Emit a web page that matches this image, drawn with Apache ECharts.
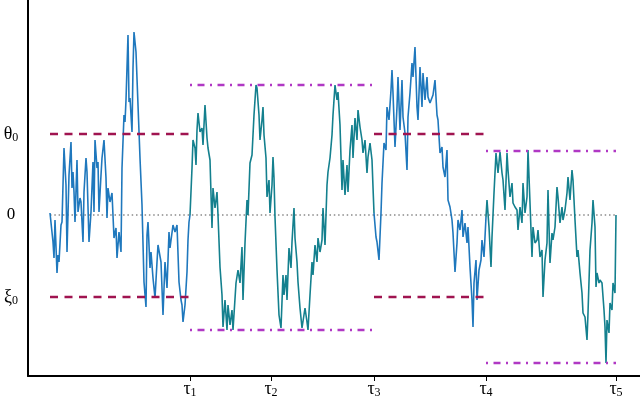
<!DOCTYPE html>
<html><head><meta charset="utf-8">
<script src="https://cdn.jsdelivr.net/npm/echarts@6.0.0/dist/echarts.min.js"></script>
<style>html,body{margin:0;padding:0;background:#fff}#c{width:640px;height:398px}</style>
</head><body><div id="c"></div>
<script>
// Time axis: arbitrary time units; value axis: arbitrary units (theta0 = 81, xi0 = -82)
const tauTimes = [140, 221, 324, 436, 566];
const tauSubs = ['1', '2', '3', '4', '5'];
const yTickValues = [81, 0, -82];
const yTickNames = [['θ', '0'], ['0', ''], ['ξ', '0']];

const theta0 = 81, xi0 = -82;
const stageB = { start: 140, end: 324, upper: 130, lower: -115 };
const stageD = { start: 436, end: 566, upper: 64, lower: -148 };
const stageA = { start: 0, end: 140 };
const stageC = { start: 324, end: 436 };
const zeroSpan = [0, 566];

const pathSeg1 = [[0,2],[2,3],[3,-27],[4,-43],[5,-5],[7,-58],[8,-40],[9,-47],[11,-10],[12,-7],[14,67],[16,30],[17,-37],[19,40],[21,73],[22,27],[23,43],[24,23],[25,-7],[27,55],[28,3],[30,17],[31,13],[33,-27],[34,23],[36,57],[37,43],[39,-27],[41,3],[43,53],[44,3],[45,75],[47,47],[48,53],[49,3],[51,40],[52,57],[54,75],[56,37],[57,-3],[58,27],[60,13],[62,22],[64,-23],[66,-13],[67,-43],[69,-17],[71,-37],[72,47],[74,100],[75,93],[76,115],[78,180],[79,113],[80,117],[82,83],[83,147],[84,183],[86,163],[88,110],[90,57],[92,10],[94,-67],[96,-92],[97,-20],[98,-7],[100,-53],[101,-37],[103,-63],[105,-83],[107,-47],[108,-30],[111,-47],[113,-100],[115,-47],[117,-73],[119,-17],[120,-33],[123,-10],[125,-17],[127,-10],[129,-67],[131,-85],[132,-90],[133,-107],[135,-90],[137,-57],[138,-25],[139,-7],[140,0]];

const pathSeg2 = [[140,0],[142,47],[143,75],[145,67],[146,50],[147,85],[148,102],[150,83],[152,87],[153,70],[155,110],[157,77],[158,67],[160,55],[162,-13],[163,27],[165,7],[167,23],[168,0],[170,-52],[172,-80],[173,-112],[175,-85],[177,-115],[178,-90],[180,-110],[182,-95],[183,-115],[186,-68],[188,-55],[190,-68],[192,-32],[193,-85],[195,-28],[197,15],[198,0],[200,52],[202,60],[204,100],[206,130],[207,127],[209,100],[210,75],[212,95],[213,108],[214,80],[216,57],[217,18],[219,35],[220,2],[222,30],[223,58],[224,37],[225,-2],[227,-55],[229,-100],[231,-113],[233,-60],[234,-80],[236,-60],[237,-85],[239,-33],[241,-53],[242,-27],[244,7],[245,-23],[247,-47],[248,-67],[250,-93],[252,-113],[253,-115],[255,-93],[257,-107],[258,-115],[260,-80],[262,-47],[263,-60],[265,-30],[267,-47],[268,-23],[270,-37],[272,-25],[273,7],[275,-30],[277,30],[278,43],[280,57],[282,80],[283,100],[285,130],[287,115],[288,123],[290,90],[292,25],[293,55],[295,20],[297,50],[298,23],[300,65],[302,90],[303,57],[305,97],[307,75],[308,105],[310,88],[312,75],[313,62],[315,75],[317,42],[318,58],[320,72],[322,55],[323,28],[324,2]];

const pathSeg3 = [[324,2],[326,-22],[327,-27],[329,-45],[331,2],[332,32],[334,72],[336,65],[337,108],[339,95],[341,125],[342,145],[343,122],[345,68],[347,108],[348,138],[350,85],[352,135],[353,98],[355,82],[357,45],[358,98],[360,122],[362,152],[363,138],[365,168],[367,108],[368,95],[370,148],[372,108],[373,142],[375,115],[377,138],[378,118],[380,112],[383,120],[385,135],[387,100],[388,95],[390,62],[392,68],[393,48],[395,38],[397,65],[398,15],[400,8],[402,-5],[403,-18],[405,-57],[407,-28],[408,-5],[410,-15],[412,5],[413,-22],[415,-8],[417,-28],[418,-12],[420,-52],[422,-85],[423,-112],[424,-68],[426,-45],[427,-85],[429,-55],[431,-45],[432,-25],[434,-42],[436,-2]];

const pathSeg4 = [[436,-2],[437,15],[439,-12],[441,-52],[442,-22],[444,22],[446,62],[447,63],[448,42],[450,63],[452,42],[453,35],[455,5],[457,62],[458,45],[460,18],[462,32],[463,12],[465,8],[467,5],[468,-15],[470,8],[472,-8],[473,32],[475,2],[477,18],[478,65],[480,12],[482,-42],[483,-12],[485,-28],[487,-25],[488,-15],[490,-42],[492,-35],[493,-82],[495,-45],[497,-28],[498,25],[500,-48],[502,-18],[503,-25],[505,-12],[507,28],[508,18],[510,-8],[512,8],[513,-5],[515,5],[517,22],[518,38],[520,15],[522,45],[523,35],[525,-5],[527,-42],[528,-35],[530,-58],[532,-78],[533,-98],[535,-102],[537,-125],[538,-98],[540,-35],[542,-8],[543,15],[545,-12],[546,-72],[547,-58],[549,-68],[550,-65],[552,-68],[554,-95],[555,-112],[556,-148],[557,-105],[559,-118],[560,-88],[562,-95],[563,-68],[565,-78],[566,0]];

const BLUE = '#1f78bd', TEAL = '#14808e', RED = '#a01450', PURPLE = '#b038c4', GREY = '#8a8a8a';
const serif = '"Liberation Serif", "DejaVu Serif", serif';

function pathSeries(data, color) {
  return { type: 'line', data: data, showSymbol: false, symbol: 'none', z: 3,
    lineStyle: { color: color, width: 1.6 }, animation: false };
}
function levelSeries(t0, t1, level, color, dash, width, z) {
  return { type: 'line', data: [[t0, level], [t1, level]], showSymbol: false, symbol: 'none', z: z,
    lineStyle: { color: color, width: width, type: dash, cap: 'butt' }, animation: false, silent: true };
}
const redDash = [8, 6.5];
const dashDot = [2, 5.5, 7, 5.5];
const dotted = [1.5, 2.8];

const chart = echarts.init(document.getElementById('c'), null, { renderer: 'canvas' });
chart.setOption({
  animation: false,
  grid: { left: 28, right: 0, top: 0, bottom: 22, containLabel: false, outerBoundsMode: 'none' },
  xAxis: {
    type: 'value', min: -22, max: 590,
    splitLine: { show: false },
    axisLine: { onZero: false, lineStyle: { color: '#000', width: 2 } },
    axisTick: { show: true, customValues: tauTimes, length: 5, inside: false, lineStyle: { color: '#000', width: 1 } },
    axisLabel: {
      customValues: tauTimes, margin: 3,
      formatter: v => '{t|τ}{s|' + tauSubs[tauTimes.indexOf(v)] + '}',
      rich: {
        t: { fontFamily: serif, fontSize: 18, color: '#000' },
        s: { fontFamily: serif, fontSize: 12, color: '#000', padding: [8, 0, 0, 0] }
      }
    }
  },
  yAxis: {
    type: 'value', min: -161, max: 215,
    splitLine: { show: false },
    axisLine: { show: true, onZero: false, lineStyle: { color: '#000', width: 2 } },
    axisTick: { show: false },
    axisLabel: {
      customValues: yTickValues, margin: 17, align: 'center',
      formatter: v => {
        const n = yTickNames[yTickValues.indexOf(v)];
        return n[1] ? '{t|' + n[0] + '}{s|' + n[1] + '}' : '{n|' + n[0] + '}';
      },
      rich: {
        t: { fontFamily: serif, fontSize: 18, color: '#000' },
        n: { fontFamily: serif, fontSize: 17, color: '#000' },
        s: { fontFamily: serif, fontSize: 12, color: '#000', padding: [8, 0, 0, 0] }
      }
    }
  },
  series: [
    levelSeries(zeroSpan[0], zeroSpan[1], 0, GREY, dotted, 1.5, 1),
    pathSeries(pathSeg1, BLUE),
    pathSeries(pathSeg2, TEAL),
    pathSeries(pathSeg3, BLUE),
    pathSeries(pathSeg4, TEAL),
    levelSeries(stageA.start, stageA.end, theta0, RED, redDash, 2.5, 4),
    levelSeries(stageA.start, stageA.end, xi0, RED, redDash, 2.5, 4),
    levelSeries(stageC.start, stageC.end, theta0, RED, redDash, 2.5, 4),
    levelSeries(stageC.start, stageC.end, xi0, RED, redDash, 2.5, 4),
    levelSeries(stageB.start, stageB.end, stageB.upper, PURPLE, dashDot, 2.5, 4),
    levelSeries(stageB.start, stageB.end, stageB.lower, PURPLE, dashDot, 2.5, 4),
    levelSeries(stageD.start, stageD.end, stageD.upper, PURPLE, dashDot, 2.5, 4),
    levelSeries(stageD.start, stageD.end, stageD.lower, PURPLE, dashDot, 2.5, 4)
  ]
});
</script>
</body></html>
